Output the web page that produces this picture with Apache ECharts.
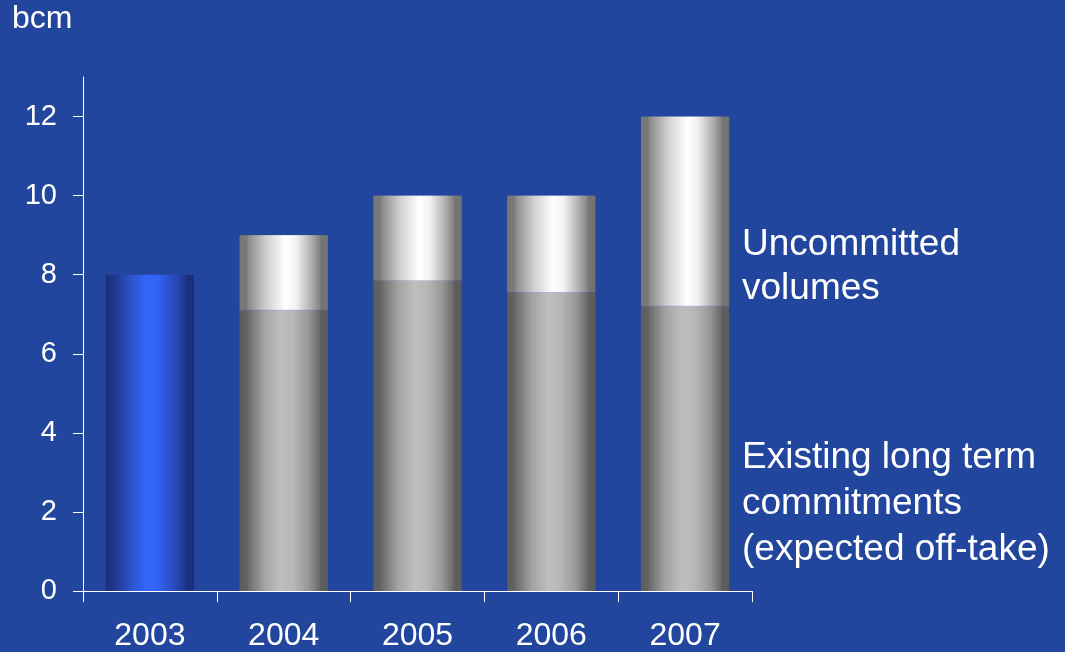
<!DOCTYPE html>
<html>
<head>
<meta charset="utf-8">
<title>bcm</title>
<script src="https://cdn.jsdelivr.net/npm/echarts@6/dist/echarts.min.js"></script>
<style>
  html, body { margin: 0; padding: 0; background: #22469d; }
  #chart { width: 1065px; height: 652px; }
</style>
</head>
<body>
<div id="chart"></div>
<script>
// Volumes in bcm per year
const years = ['2003', '2004', '2005', '2006', '2007'];
const actual = [8, '-', '-', '-', '-'];
const existing = ['-', 7.1, 7.85, 7.55, 7.2];
const uncommitted = ['-', 1.9, 2.15, 2.45, 4.8];
const yTicks = [0, 2, 4, 6, 8, 10, 12];

const FONT = '"Liberation Sans", Arial, Helvetica, sans-serif';

// Horizontal "cylinder" shading for each bar type
function cylinder(stops) {
  return new echarts.graphic.LinearGradient(0, 0, 1, 0,
    stops.map(([offset, color]) => ({ offset, color })));
}
const blueFill = cylinder([
  [0, '#1b2f7c'], [0.08, '#1d3589'], [0.1, '#21398f'], [0.28, '#2b52c8'],
  [0.46, '#3366fe'], [0.6, '#3161f0'], [0.8, '#2847b6'], [0.91, '#1d3487'],
  [0.92, '#1b2f7c'], [1, '#1b2f7c']
]);
const greyFill = cylinder([
  [0, '#5c5c5c'], [0.08, '#626262'], [0.1, '#6c6c6c'], [0.28, '#a3a3a3'],
  [0.46, '#bebebe'], [0.6, '#b8b8b8'], [0.78, '#989898'], [0.91, '#686868'],
  [0.92, '#5e5e5e'], [1, '#5c5c5c']
]);
const silverFill = cylinder([
  [0, '#777777'], [0.08, '#797979'], [0.1, '#8a8a8a'], [0.3, '#cfcfcf'],
  [0.52, '#ffffff'], [0.64, '#f2f2f2'], [0.8, '#b4b4b4'], [0.91, '#838383'],
  [0.92, '#757575'], [1, '#737373']
]);

const chart = echarts.init(document.getElementById('chart'), null, { renderer: 'canvas' });

chart.setOption({
  backgroundColor: '#22469d',
  animation: false,
  grid: { left: 83, right: 313, top: 77, bottom: 60 },
  xAxis: {
    type: 'category',
    data: years,
    axisLine: { lineStyle: { color: '#ffffff', width: 1 } },
    axisTick: { show: true, length: 11, lineStyle: { color: '#ffffff', width: 1 } },
    axisLabel: { color: '#ffffff', fontFamily: FONT, fontSize: 32, margin: 29 }
  },
  yAxis: {
    type: 'value',
    min: 0,
    max: 13,
    interval: 2,
    splitLine: { show: false },
    axisLine: { show: true, lineStyle: { color: '#ffffff', width: 1 } },
    axisTick: { show: true, length: 10, customValues: yTicks, lineStyle: { color: '#ffffff', width: 1 } },
    axisLabel: { color: '#ffffff', fontFamily: FONT, fontSize: 29, margin: 26, customValues: yTicks }
  },
  series: [
    {
      name: 'Actual',
      type: 'bar',
      stack: 'total',
      barWidth: '66%',
      data: actual,
      itemStyle: { color: blueFill }
    },
    {
      name: 'Existing long term commitments',
      type: 'bar',
      stack: 'total',
      barWidth: '66%',
      data: existing,
      itemStyle: { color: greyFill }
    },
    {
      name: 'Uncommitted volumes',
      type: 'bar',
      stack: 'total',
      barWidth: '66%',
      data: uncommitted,
      // stroke with the same shading so the joint with the segment below stays solid
      itemStyle: { color: silverFill, borderColor: silverFill, borderWidth: 1 }
    }
  ],
  graphic: [
    {
      type: 'text', left: 12, top: 3,
      style: { text: 'bcm', fill: '#ffffff', font: '32px ' + FONT }
    },
    {
      type: 'text', x: 742, y: 223,
      style: {
        text: 'Uncommitted\nvolumes', fill: '#ffffff',
        font: '37px ' + FONT, lineHeight: 44, verticalAlign: 'top'
      }
    },
    {
      type: 'text', x: 742, y: 435,
      style: {
        text: 'Existing long term\ncommitments\n(expected off-take)', fill: '#ffffff',
        font: '37px ' + FONT, lineHeight: 46, verticalAlign: 'top'
      }
    }
  ]
});
</script>
</body>
</html>
